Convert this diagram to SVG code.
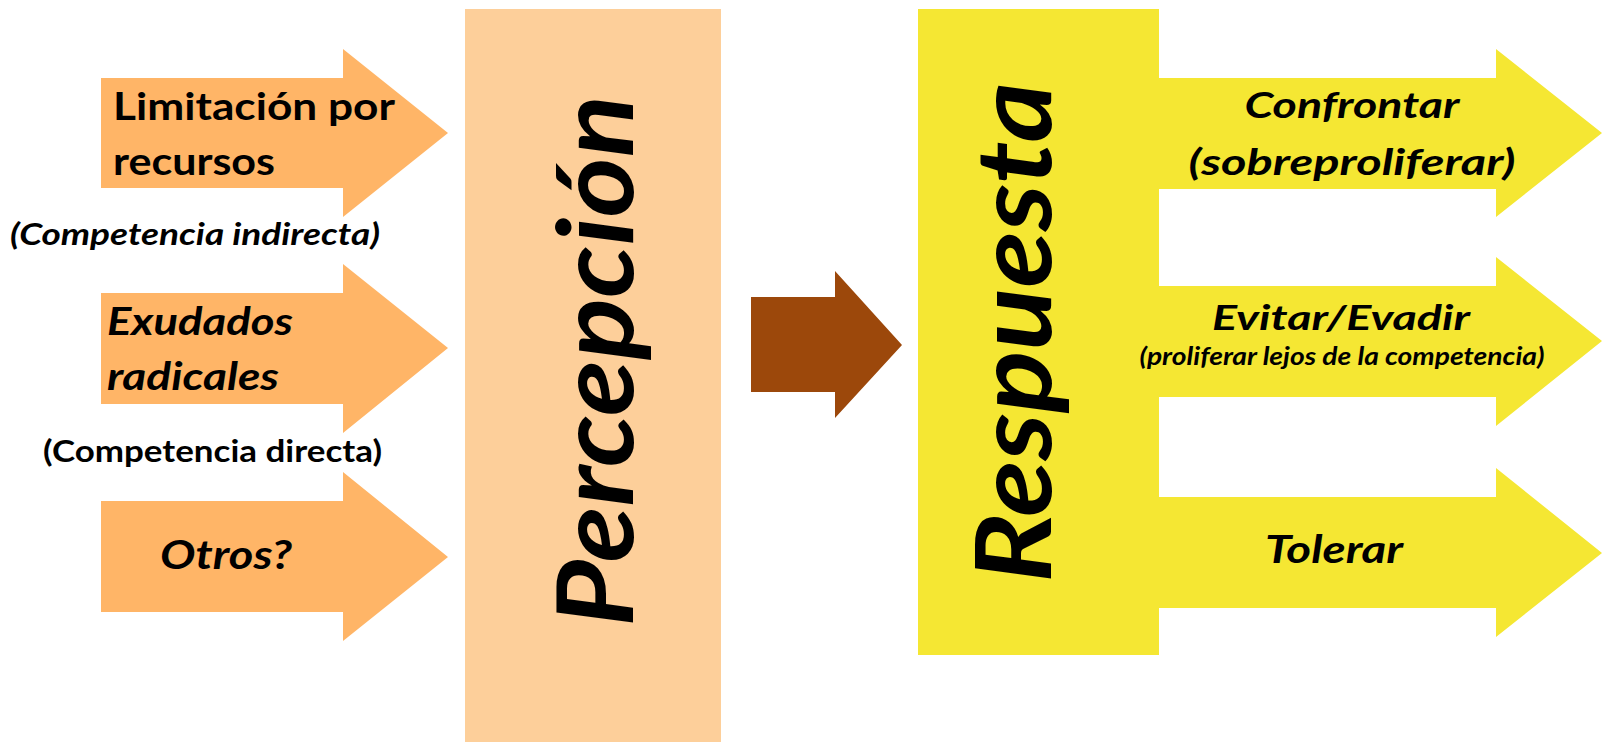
<svg xmlns="http://www.w3.org/2000/svg" width="1604" height="742" viewBox="0 0 1604 742">
<style>
.t{font-family:Lato,"Open Sans","Liberation Sans",sans-serif;font-weight:bold;fill:#000}
.i{font-style:italic}
.orange{fill:#FFB567}
.yellow{fill:#F5E733}
</style>
<rect width="1604" height="742" fill="#fff"/>
<g id="input-limitacion">
<polygon class="orange" points="101,78 343,78 343,49 448,133 343,217 343,188 101,188"/>
<text class="t" x="113" y="120" font-size="38" textLength="282" lengthAdjust="spacingAndGlyphs">Limitación por</text>
<text class="t" x="113" y="175" font-size="38" textLength="162" lengthAdjust="spacingAndGlyphs">recursos</text>
</g>
<text id="label-indirecta" class="t i" x="10" y="245" font-size="31" textLength="370" lengthAdjust="spacingAndGlyphs">(Competencia indirecta)</text>
<g id="input-exudados">
<polygon class="orange" points="101,293 343,293 343,264 448,348 343,433 343,404 101,404"/>
<text class="t i" x="107" y="335" font-size="39" textLength="186" lengthAdjust="spacingAndGlyphs">Exudados</text>
<text class="t i" x="107" y="390" font-size="39" textLength="172" lengthAdjust="spacingAndGlyphs">radicales</text>
</g>
<text id="label-directa" class="t" x="43" y="462" font-size="31" textLength="339" lengthAdjust="spacingAndGlyphs">(Competencia directa)</text>
<g id="input-otros">
<polygon class="orange" points="101,501 343,501 343,472 448,557 343,641 343,612 101,612"/>
<text class="t i" x="160" y="569" font-size="40" textLength="132" lengthAdjust="spacingAndGlyphs">Otros?</text>
</g>
<g id="percepcion">
<rect x="465" y="9" width="256" height="733" fill="#FDCF9A"/>
<text class="t i" transform="translate(633,627) rotate(-90)" x="0" y="0" font-size="106" textLength="532" lengthAdjust="spacingAndGlyphs">Percepción</text>
</g>
<g id="connectors">
<polygon fill="#9C480B" points="751,297 835,297 835,271 902,345 835,418 835,392 751,392"/>
</g>
<g id="respuesta">
<rect class="yellow" x="918" y="9" width="241" height="646"/>
<text class="t i" transform="translate(1051,583) rotate(-90)" x="0" y="0" font-size="106" textLength="501" lengthAdjust="spacingAndGlyphs">Respuesta</text>
</g>
<g id="out-confrontar">
<polygon class="yellow" points="1158,78 1496,78 1496,49 1602,133 1496,217 1496,189 1158,189"/>
<text class="t i" x="1352" y="118" font-size="37" text-anchor="middle" textLength="215" lengthAdjust="spacingAndGlyphs">Confrontar</text>
<text class="t i" x="1352" y="175" font-size="37" text-anchor="middle" textLength="327" lengthAdjust="spacingAndGlyphs">(sobreproliferar)</text>
</g>
<g id="out-evitar">
<polygon class="yellow" points="1158,286 1496,286 1496,257 1602,341 1496,426 1496,397 1158,397"/>
<text class="t i" x="1341" y="330" font-size="35" text-anchor="middle" textLength="258" lengthAdjust="spacingAndGlyphs">Evitar/Evadir</text>
<text class="t i" x="1342" y="365" font-size="24" text-anchor="middle" textLength="405" lengthAdjust="spacingAndGlyphs">(proliferar lejos de la competencia)</text>
</g>
<g id="out-tolerar">
<polygon class="yellow" points="1158,497 1496,497 1496,468 1602,553 1496,637 1496,608 1158,608"/>
<text class="t i" x="1334" y="563" font-size="39" text-anchor="middle" textLength="138" lengthAdjust="spacingAndGlyphs">Tolerar</text>
</g>
</svg>
